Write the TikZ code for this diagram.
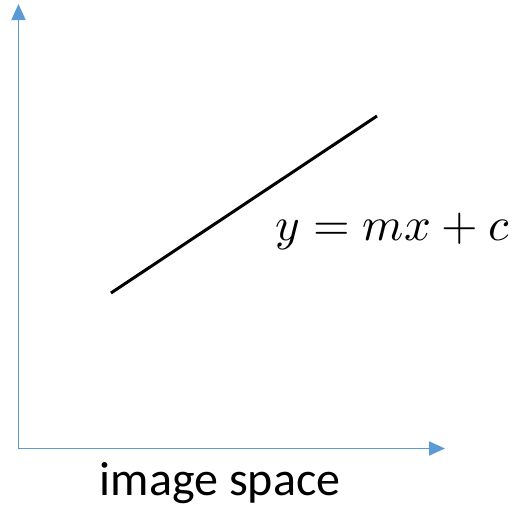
\documentclass[tikz,border=0pt]{standalone}
\usepackage{fontspec}
\usepackage{unicode-math}
\setmainfont{Carlito}
\usetikzlibrary{arrows.meta}
\definecolor{axisblue}{HTML}{5B9BD5}
\tikzset{
  axis/.style={draw=axisblue, line width=1.8pt, -{Triangle[length=16pt,width=14pt]}},
  dataline/.style={draw=black, line width=3pt},
  lbl/.style={inner sep=0pt, anchor=base}
}
\begin{document}
\begin{tikzpicture}[x=1pt,y=-1pt]
\useasboundingbox (0,0) rectangle (515,509);
\coordinate (o) at (18.5,448.5);
\coordinate (ytip) at (18.5,4);
\coordinate (xtip) at (445,448.5);
\draw[axis] (o) -- (ytip);
\draw[axis] (o) -- (xtip);
\coordinate (p1) at (111,293);
\coordinate (p2) at (377,116);
\draw[dataline] (p1) -- (p2);
\node[lbl, font=\fontsize{47}{50}\selectfont] (eq) at (393,240) {$y = mx + c$};
\node[lbl, font=\fontsize{48}{50}\selectfont] (cap) at (220,495) {image space};
\end{tikzpicture}
\end{document}
